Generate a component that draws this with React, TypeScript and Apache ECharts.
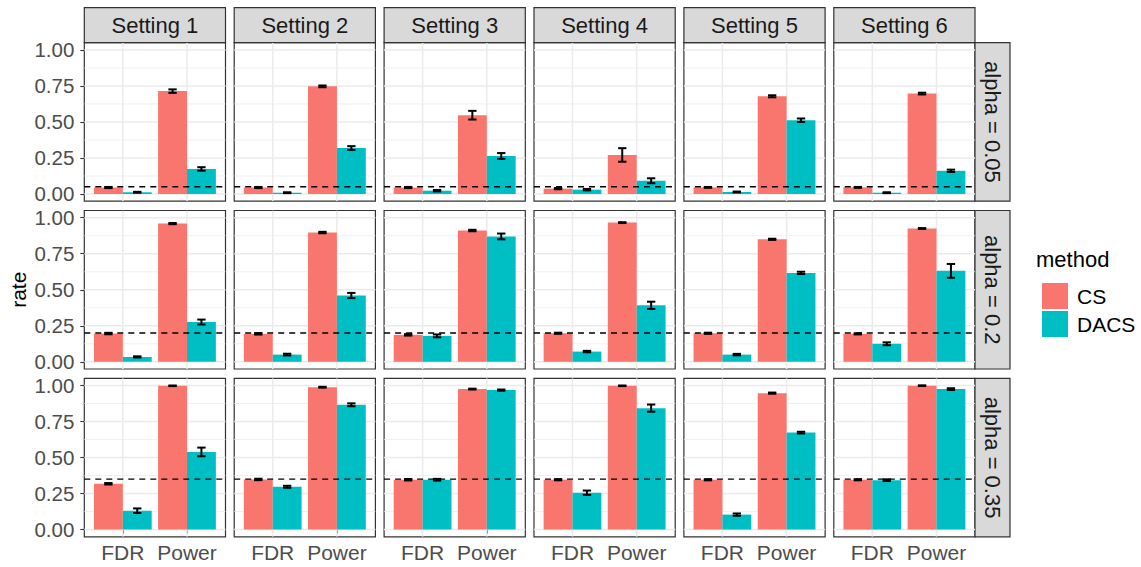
import React, { useEffect, useRef } from "react";
import * as echarts from "echarts";

const settings = ["Setting 1", "Setting 2", "Setting 3", "Setting 4", "Setting 5", "Setting 6"];
const alphaLabels = ["alpha = 0.05", "alpha = 0.2", "alpha = 0.35"];
const alphas = [0.05, 0.2, 0.35];
const metrics = ["FDR", "Power"];
const methods = ["CS", "DACS"];
const yTicks = [0, 0.25, 0.5, 0.75, 1];
const yMinor = [0.125, 0.375, 0.625, 0.875];
const xTicks = [1, 2];

// rows = alpha levels, columns = settings
const csFDR = [
  [0.045, 0.045, 0.045, 0.037, 0.046, 0.046],
  [0.196, 0.194, 0.187, 0.198, 0.198, 0.194],
  [0.318, 0.348, 0.346, 0.346, 0.346, 0.346],
];
const csFDRErr = [
  [0.004, 0.004, 0.004, 0.004, 0.003, 0.003],
  [0.005, 0.005, 0.005, 0.004, 0.004, 0.004],
  [0.005, 0.005, 0.005, 0.004, 0.004, 0.004],
];
const dacsFDR = [
  [0.012, 0.009, 0.023, 0.03, 0.014, 0.009],
  [0.034, 0.05, 0.18, 0.071, 0.05, 0.125],
  [0.131, 0.297, 0.346, 0.256, 0.104, 0.343],
];
const dacsFDRErr = [
  [0.003, 0.003, 0.005, 0.005, 0.003, 0.003],
  [0.004, 0.006, 0.01, 0.005, 0.005, 0.01],
  [0.016, 0.007, 0.006, 0.015, 0.008, 0.006],
];
const csPower = [
  [0.714, 0.747, 0.547, 0.271, 0.678, 0.697],
  [0.959, 0.897, 0.911, 0.966, 0.85, 0.925],
  [0.998, 0.988, 0.975, 0.998, 0.947, 0.999],
];
const csPowerErr = [
  [0.012, 0.006, 0.03, 0.047, 0.007, 0.006],
  [0.004, 0.005, 0.005, 0.003, 0.004, 0.003],
  [0.002, 0.003, 0.003, 0.002, 0.004, 0.002],
];
const dacsPower = [
  [0.174, 0.319, 0.264, 0.092, 0.512, 0.161],
  [0.276, 0.46, 0.87, 0.392, 0.617, 0.631],
  [0.539, 0.866, 0.968, 0.843, 0.673, 0.975],
];
const dacsPowerErr = [
  [0.012, 0.013, 0.02, 0.017, 0.012, 0.008],
  [0.017, 0.018, 0.02, 0.025, 0.008, 0.048],
  [0.03, 0.01, 0.004, 0.025, 0.006, 0.006],
];

const COLORS: Record<string, string> = { CS: "#F8766D", DACS: "#00BFC4" };
const FONT = "'Liberation Sans', Arial, Helvetica, sans-serif";

const P_LEFT = 84.3;
const P_STEP_X = 149.9;
const P_W = 141.2;
const P_TOP = 42.7;
const P_STEP_Y = 167.8;
const P_H = 158.5;
const STRIP = 35;

function buildOption() {
  const grids: any[] = [];
  const xAxes: any[] = [];
  const yAxes: any[] = [];
  const series: any[] = [];
  const graphics: any[] = [];

  for (let r = 0; r < 3; r++) {
    for (let c = 0; c < 6; c++) {
      const k = r * 6 + c;
      const left = P_LEFT + c * P_STEP_X;
      const top = P_TOP + r * P_STEP_Y;
      grids.push({
        left,
        top,
        width: P_W,
        height: P_H,
        show: true,
        backgroundColor: "#FFFFFF",
        borderColor: "#333333",
        borderWidth: 1.2,
      });
      xAxes.push({
        type: "value",
        gridIndex: k,
        min: 0.4,
        max: 2.6,
        splitLine: { show: false },
        axisLine: { show: false },
        axisTick: {
          show: r === 2,
          customValues: xTicks,
          length: 4,
          lineStyle: { color: "#333333", width: 1.1 },
        },
        axisLabel: {
          show: r === 2,
          customValues: xTicks,
          formatter: (v: number) => metrics[Math.round(v) - 1] ?? "",
          fontSize: 21,
          color: "#4D4D4D",
          margin: 5,
          fontFamily: FONT,
        },
      });
      yAxes.push({
        type: "value",
        gridIndex: k,
        min: -0.05,
        max: 1.05,
        splitLine: { show: false },
        axisLine: { show: false },
        axisTick: {
          show: c === 0,
          customValues: yTicks,
          length: 4,
          lineStyle: { color: "#333333", width: 1.1 },
        },
        axisLabel: {
          show: c === 0,
          customValues: yTicks,
          formatter: (v: number) => v.toFixed(2),
          fontSize: 20.5,
          color: "#4D4D4D",
          margin: 10,
          fontFamily: FONT,
        },
      });

      // grid lines
      const gridData: number[][] = [
        ...yTicks.map((v) => [1, v, 0]),
        ...yMinor.map((v) => [1, v, 1]),
        ...xTicks.map((v) => [v, 0, 2]),
      ];
      series.push({
        type: "custom",
        xAxisIndex: k,
        yAxisIndex: k,
        z: 1,
        silent: true,
        clip: true,
        encode: { x: 0, y: 1 },
        data: gridData,
        renderItem: (params: any, api: any) => {
          const cs = params.coordSys;
          const kind = api.value(2);
          if (kind === 2) {
            const p = api.coord([api.value(0), 0]);
            return {
              type: "line",
              shape: { x1: p[0], y1: cs.y, x2: p[0], y2: cs.y + cs.height },
              style: { stroke: "#EBEBEB", lineWidth: 1.5 },
            };
          }
          const p = api.coord([1, api.value(1)]);
          return {
            type: "line",
            shape: { x1: cs.x, y1: p[1], x2: cs.x + cs.width, y2: p[1] },
            style: { stroke: "#EBEBEB", lineWidth: kind === 0 ? 1.5 : 0.8 },
          };
        },
      });

      const methodData: Record<string, number[][]> = {
        CS: [
          [1, csFDR[r][c], csFDRErr[r][c]],
          [2, csPower[r][c], csPowerErr[r][c]],
        ],
        DACS: [
          [1, dacsFDR[r][c], dacsFDRErr[r][c]],
          [2, dacsPower[r][c], dacsPowerErr[r][c]],
        ],
      };

      methods.forEach((m, mi) => {
        const off = mi === 0 ? -0.225 : 0.225;
        const color = COLORS[m];
        series.push({
          type: "custom",
          name: m,
          xAxisIndex: k,
          yAxisIndex: k,
          z: 2,
          itemStyle: { color },
          encode: { x: 0, y: 1 },
          data: methodData[m],
          renderItem: (params: any, api: any) => {
            const x = api.value(0);
            const v = api.value(1);
            const p0 = api.coord([x + off - 0.225, v]);
            const p1 = api.coord([x + off + 0.225, 0]);
            return {
              type: "rect",
              shape: { x: p0[0], y: p0[1], width: p1[0] - p0[0], height: p1[1] - p0[1] },
              style: { fill: color },
            };
          },
        });
      });

      methods.forEach((m, mi) => {
        const off = mi === 0 ? -0.225 : 0.225;
        series.push({
          type: "custom",
          xAxisIndex: k,
          yAxisIndex: k,
          z: 4,
          clip: false,
          silent: true,
          encode: { x: 0, y: 1 },
          data: methodData[m],
          renderItem: (params: any, api: any) => {
            const x = api.value(0) + off;
            const v = api.value(1);
            const e = api.value(2);
            const top = api.coord([x, v + e]);
            const bot = api.coord([x, v - e]);
            const l = api.coord([x - 0.065, v]);
            const rr = api.coord([x + 0.065, v]);
            const st = { stroke: "#000000", lineWidth: 2 };
            return {
              type: "group",
              children: [
                { type: "line", shape: { x1: top[0], y1: top[1], x2: bot[0], y2: bot[1] }, style: st },
                { type: "line", shape: { x1: l[0], y1: top[1], x2: rr[0], y2: top[1] }, style: st },
                { type: "line", shape: { x1: l[0], y1: bot[1], x2: rr[0], y2: bot[1] }, style: st },
              ],
            };
          },
        });
      });

      // dashed alpha reference line
      series.push({
        type: "custom",
        xAxisIndex: k,
        yAxisIndex: k,
        z: 3,
        silent: true,
        encode: { x: 0, y: 1 },
        data: [[1, alphas[r]]],
        renderItem: (params: any, api: any) => {
          const cs = params.coordSys;
          const p = api.coord([1, api.value(1)]);
          return {
            type: "line",
            shape: { x1: cs.x, y1: p[1], x2: cs.x + cs.width, y2: p[1] },
            style: { stroke: "#000000", lineWidth: 1.4, lineDash: [6, 5] },
          };
        },
      });
    }
  }

  // top strips
  settings.forEach((s, c) => {
    const left = P_LEFT + c * P_STEP_X;
    graphics.push({
      type: "rect",
      shape: { x: left, y: P_TOP - STRIP, width: P_W, height: STRIP },
      style: { fill: "#D9D9D9", stroke: "#333333", lineWidth: 1.2 },
      silent: true,
    });
    graphics.push({
      type: "text",
      x: left + P_W / 2,
      y: P_TOP - STRIP / 2 + 0.5,
      style: {
        text: s,
        fontSize: 22,
        fontFamily: FONT,
        fill: "#1A1A1A",
        align: "center",
        verticalAlign: "middle",
      },
      silent: true,
    });
  });

  // right strips
  const stripX = P_LEFT + 5 * P_STEP_X + P_W;
  alphaLabels.forEach((a, r) => {
    const top = P_TOP + r * P_STEP_Y;
    graphics.push({
      type: "rect",
      shape: { x: stripX, y: top, width: STRIP, height: P_H },
      style: { fill: "#D9D9D9", stroke: "#333333", lineWidth: 1.2 },
      silent: true,
    });
    graphics.push({
      type: "text",
      x: stripX + STRIP / 2 - 0.5,
      y: top + P_H / 2,
      rotation: -Math.PI / 2,
      style: {
        text: a,
        fontSize: 22,
        fontFamily: FONT,
        fill: "#1A1A1A",
        align: "center",
        verticalAlign: "middle",
      },
      silent: true,
    });
  });

  // y axis title
  graphics.push({
    type: "text",
    x: 18,
    y: P_TOP + (2 * P_STEP_Y + P_H) / 2,
    rotation: Math.PI / 2,
    style: {
      text: "rate",
      fontSize: 21,
      fontFamily: FONT,
      fill: "#000000",
      align: "center",
      verticalAlign: "middle",
    },
    silent: true,
  });

  // legend title
  graphics.push({
    type: "text",
    x: 1036,
    y: 259,
    style: {
      text: "method",
      fontSize: 22,
      fontFamily: FONT,
      fill: "#000000",
      align: "left",
      verticalAlign: "middle",
    },
    silent: true,
  });

  return {
    animation: false,
    backgroundColor: "#FFFFFF",
    grid: grids,
    xAxis: xAxes,
    yAxis: yAxes,
    series,
    legend: {
      data: methods,
      orient: "vertical",
      left: 1037,
      top: 278,
      itemWidth: 26,
      itemHeight: 26,
      itemGap: 2,
      icon: "rect",
      selectedMode: false,
      textStyle: { fontSize: 21, fontFamily: FONT, color: "#000000", padding: [0, 0, 0, 4] },
    },
    graphic: graphics,
  };
}

export default function App() {
  const ref = useRef<HTMLDivElement>(null);
  useEffect(() => {
    if (!ref.current) return;
    const chart = echarts.init(ref.current, undefined, { renderer: "svg" });
    chart.setOption(buildOption() as any);
    return () => chart.dispose();
  }, []);
  return (
    <div
      ref={ref}
      style={{ position: "fixed", left: 0, top: 0, width: 1141, height: 567, background: "#FFFFFF" }}
    />
  );
}
